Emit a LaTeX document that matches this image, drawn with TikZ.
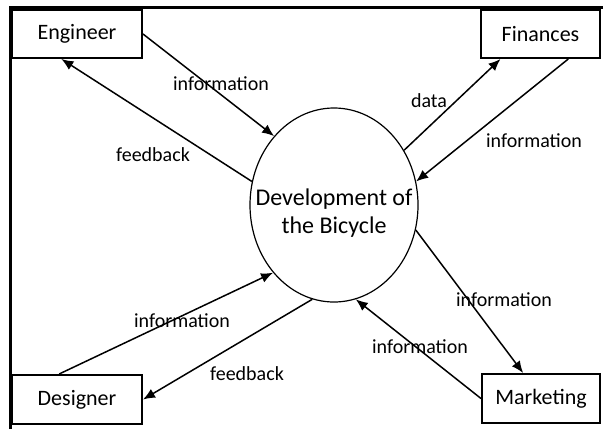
\documentclass[tikz,border=0pt]{standalone}
\usepackage{fontspec}
\setmainfont{Carlito}
\usetikzlibrary{shapes.geometric,arrows.meta}

\begin{document}
\begin{tikzpicture}[
    x=0.5pt, y=-0.5pt,
    party/.style={draw, rectangle, line width=1pt, inner sep=0pt,
                  minimum height=24pt, font=\fontsize{11}{13}\selectfont},
    process/.style={draw, ellipse, line width=0.6pt, inner xsep=-10pt, inner ysep=0pt,
                    minimum width=84pt, minimum height=97pt, align=center,
                    font=\fontsize{12}{14}\selectfont},
    flow/.style={font=\fontsize{10}{12}\selectfont},
    >={Latex[length=6pt,width=5pt]},
    line width=0.75pt
]
    \useasboundingbox (0,0) rectangle (603,429);

    % Frame (top and left edge only)
    \coordinate (frameTL) at (10,7);
    \draw[line width=1.5pt] (10,429) -- (frameTL) -- (603,7);

    % External parties
    \node[party, minimum width=65pt] (eng) at (77,34) {Engineer};
    \node[party, minimum width=59.5pt] (fin) at (540.5,34) {Finances};
    \node[party, minimum width=65pt, minimum height=24.5pt] (des) at (77,399.5) {Designer};
    \node[party, minimum width=59pt, minimum height=24.5pt] (mkt) at (541,398.5) {Marketing};

    % Process
    \node[process] (dev) at (334,205) {\rule{0pt}{16pt}Development of\\the Bicycle};

    % Flows
    \draw[->] (eng.east) -- (dev.131);
    \draw[->] (dev.164) -- (eng.238);
    \draw[->] (dev.38) -- (fin.212);
    \draw[->] (fin.318) -- (dev.16);
    \draw[->] (dev.343) -- (mkt.125);
    \draw[->] (mkt.west) -- (dev.283);
    \draw[->] (des.125) -- (dev.228);
    \draw[->] (dev.257) -- (des.east);

    % Flow labels
    \node[flow] (engInfo) at (221,84) {information};
    \node[flow] (engFeed) at (153,155) {feedback};
    \node[flow] (finData) at (429,101) {data};
    \node[flow] (finInfo) at (534,141) {information};
    \node[flow] (mktInfoOut) at (504,300) {information};
    \node[flow] (mktInfoIn) at (420,347) {information};
    \node[flow] (desInfo) at (182,321) {information};
    \node[flow] (desFeed) at (247,374) {feedback};
\end{tikzpicture}
\end{document}
